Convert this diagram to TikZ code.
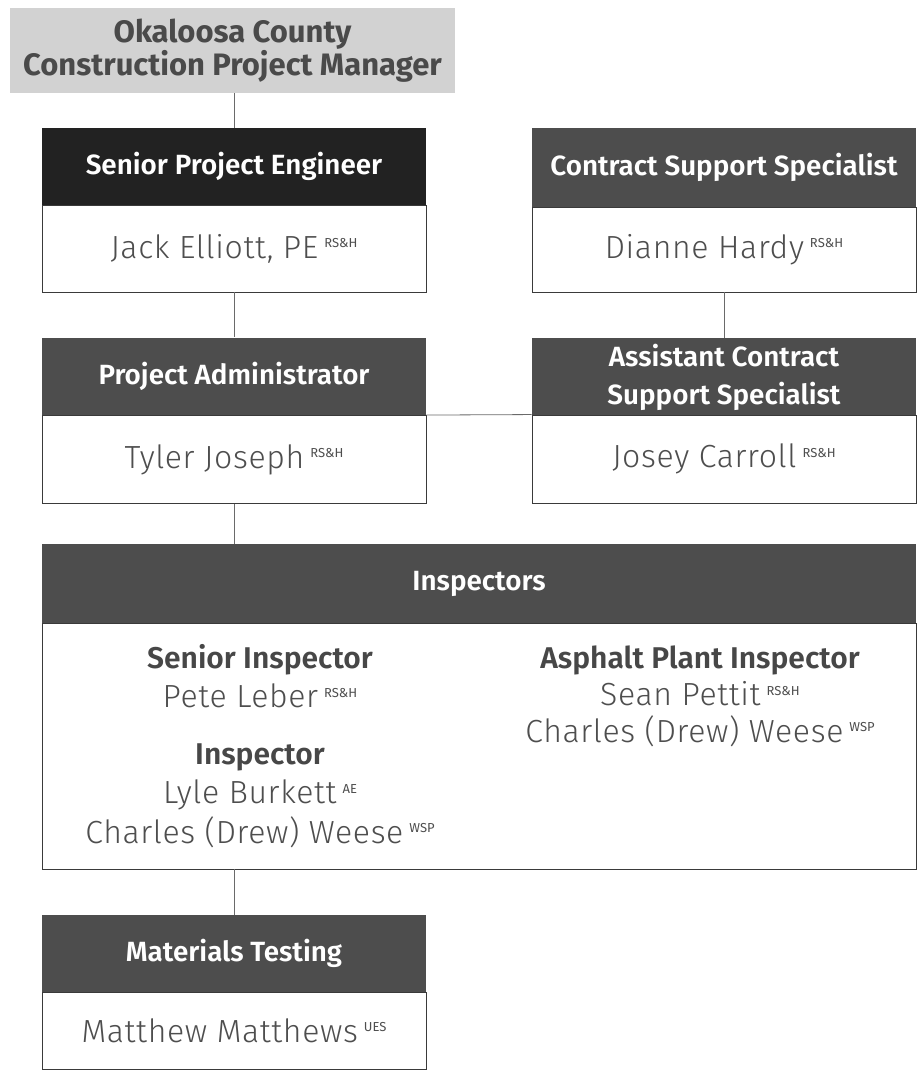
\documentclass[tikz,border=0pt]{standalone}
\usepackage{fontspec}
\setmainfont{Fira Sans}
\newfontfamily\namefont{Fira Sans Light}[LetterSpace=2]
\newfontfamily\headfont{Fira Sans SemiBold}
\definecolor{topfill}{HTML}{D2D2D2}
\definecolor{toptext}{HTML}{4A4A4A}
\definecolor{blackhead}{HTML}{222222}
\definecolor{darkhead}{HTML}{4D4D4D}
\definecolor{nametext}{HTML}{4E4E4E}
\definecolor{rolecol}{HTML}{474747}
\definecolor{edge}{HTML}{3A3A3A}
\definecolor{linkcol}{HTML}{6A6A6A}
% company tag set small and raised to the cap line
\newcommand{\firm}[1]{\hspace{6pt}\raisebox{0.33em}{\normalfont\fontsize{13}{13}\selectfont #1}}
\tikzset{
  x=1pt, y=-1pt,
  head/.style={fill=darkhead, text=white, font=\headfont\fontsize{27.8}{38}\selectfont,
    inner sep=0pt, align=center, minimum height=77pt},
  body/.style={fill=white, draw=edge, line width=0.9pt, text=nametext,
    font=\namefont\fontsize{32}{36}\selectfont, inner sep=0pt, align=center},
  role/.style={text=rolecol, font=\headfont\fontsize{30}{34}\selectfont, inner sep=0pt},
  person/.style={text=nametext, font=\namefont\fontsize{32}{36}\selectfont, inner sep=0pt},
  link/.style={draw=linkcol, line width=0.8pt}
}
\begin{document}
\begin{tikzpicture}
\useasboundingbox (0,0) rectangle (919,1072);

% county manager
\node[fill=topfill, text=toptext, font=\bfseries\fontsize{31}{31}\selectfont,
      minimum width=445pt, minimum height=85pt, inner sep=0pt, align=center]
  (cpm) at (232.5,50.5) {Okaloosa County\\Construction Project Manager};

% senior project engineer
\node[head, fill=blackhead, minimum width=384pt] (speh) at (234,166.5) {Senior Project Engineer};
\node[body, minimum width=384pt, minimum height=87pt] (speb) at (234,248.5) {Jack Elliott, PE\firm{RS\&H}};

% project administrator
\node[head, minimum width=384pt, minimum height=78pt] (pah) at (234,376.5) {Project Administrator};
\node[body, minimum width=384pt, minimum height=88pt] (pab) at (234,459.5) {Tyler Joseph\firm{RS\&H}};

% contract support
\node[head, minimum width=384pt, minimum height=79pt] (cssh) at (724,167.5) {Contract Support Specialist};
\node[body, minimum width=384pt, minimum height=85pt] (cssb) at (724,249.5) {Dianne Hardy\firm{RS\&H}};

\node[head, minimum width=384pt, minimum height=78pt]
  (acssh) at (724,377) {Assistant Contract\\Support Specialist};
\node[body, minimum width=384pt, minimum height=88pt] (acssb) at (724,459) {Josey Carroll\firm{RS\&H}};

% inspectors
\node[head, minimum width=874pt, minimum height=79pt] (insh) at (479,583.5) {Inspectors};
\node[body, minimum width=874pt, minimum height=246pt] (insb) at (479,746) {};

\node[role]   (srrole)  at (260,660) {Senior Inspector};
\node[person] (srname)  at (260,696) {Pete Leber\firm{RS\&H}};
\node[role]   (inrole)  at (260,757) {Inspector};
\node[person] (inname1) at (260,795) {Lyle Burkett\firm{AE}};
\node[person] (inname2) at (260,832) {Charles (Drew) Weese\firm{WSP}};

\node[role]   (aprole)  at (700,660) {Asphalt Plant Inspector};
\node[person] (apname1) at (700,694) {Sean Pettit\firm{RS\&H}};
\node[person] (apname2) at (700,731) {Charles (Drew) Weese\firm{WSP}};

% materials testing
\node[head, minimum width=384pt] (mth) at (234,953.5) {Materials Testing};
\node[body, minimum width=384pt, minimum height=77pt] (mtb) at (234,1030.5) {Matthew Matthews\firm{UES}};

% connectors
\draw[link] (cpm.south -| speh.north) -- (speh.north);
\draw[link] (speb.south) -- (pah.north);
\draw[link] (pab.south) -- (insh.north -| pab.south);
\draw[link] (cssb.south) -- (acssh.north);
\draw[link] (pab.north east) -- (acssb.north west);
\draw[link] (insb.south -| mth.north) -- (mth.north);
\end{tikzpicture}
\end{document}
